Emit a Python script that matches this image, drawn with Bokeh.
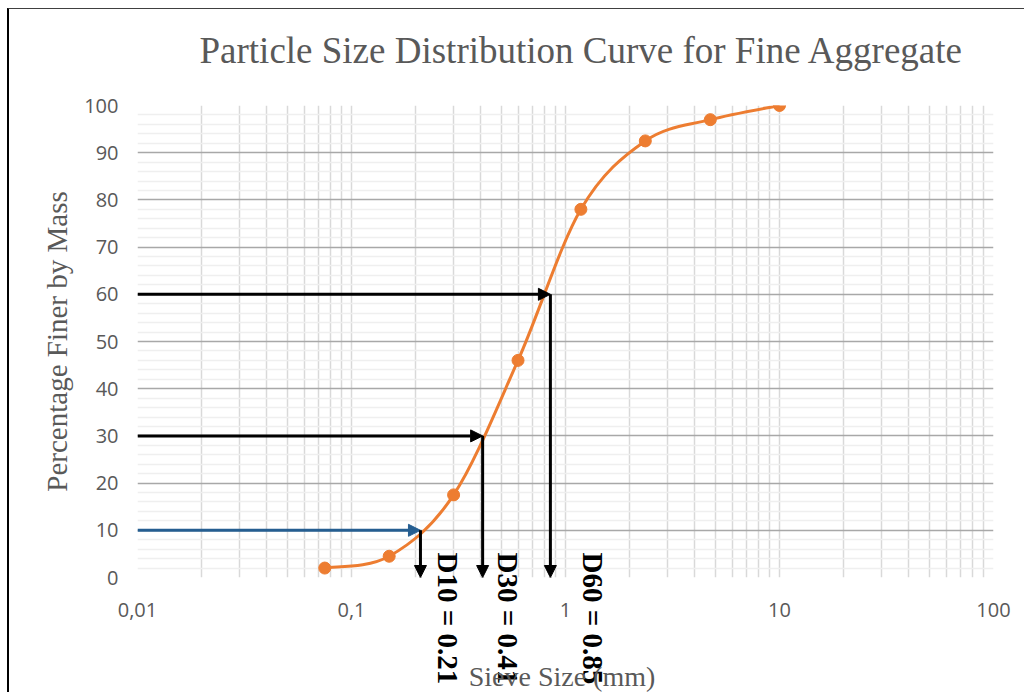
import numpy as np
from bokeh.plotting import figure
from bokeh.models import Arrow, NormalHead, FixedTicker, CustomJSTickFormatter
from bokeh.core.properties import value
from bokeh.embed import file_html
from bokeh.resources import INLINE

# ---- data ----
sieve_mm = [0.075, 0.15, 0.3, 0.6, 1.18, 2.36, 4.75, 10]
pct_finer = [2, 4.5, 17.5, 46, 78, 92.5, 97, 100]
d_names = ["D10", "D30", "D60"]
d_values = [0.21, 0.41, 0.85]
d_pcts = [10, 30, 60]
x_ticks = [0.01, 0.1, 1, 10, 100]
y_ticks = list(range(0, 101, 10))

TITLE = "Particle Size Distribution Curve for Fine Aggregate"
XLABEL = "Sieve  Size (mm)"
YLABEL = "Percentage Finer by Mass"

GRAY_TXT = "#595959"
ORANGE = "#ED7D31"
BLUE = "#255E91"

p = figure(width=1017, height=684, x_axis_type="log",
           x_range=(0.01, 100), y_range=(0, 100),
           output_backend="svg", toolbar_location=None,
           min_border_left=128, min_border_right=33,
           min_border_top=96, min_border_bottom=116)
p.styles = {"margin-left": "7px", "margin-top": "8px",
            "border-left": "2px solid #000000", "border-top": "1px solid #404040"}
p.outline_line_color = None
p.background_fill_color = "white"
p.border_fill_color = "white"

# minor ticks
x_minor = [m * 10.0 ** e for e in range(-2, 2) for m in range(2, 10)]
y_minor = [v for v in range(2, 100, 2) if v % 10 != 0]

p.xaxis.ticker = FixedTicker(ticks=x_ticks, minor_ticks=x_minor)
p.yaxis.ticker = FixedTicker(ticks=y_ticks, minor_ticks=y_minor)
p.xaxis.formatter = CustomJSTickFormatter(code="return String(tick).replace('.', ',');")

for ax in (p.xaxis, p.yaxis):
    ax.axis_line_color = None
    ax.major_tick_line_color = None
    ax.minor_tick_line_color = None
    ax.major_tick_out = 0
    ax.minor_tick_out = 0
    ax.major_label_text_font = "Open Sans"
    ax.major_label_text_font_size = "20px"
    ax.major_label_text_color = GRAY_TXT
p.xaxis.major_label_standoff = 25
p.yaxis.major_label_standoff = 19

p.yaxis.axis_label = YLABEL
p.yaxis.axis_label_text_font = "Liberation Serif"
p.yaxis.axis_label_text_font_size = "29px"
p.yaxis.axis_label_text_font_style = "normal"
p.yaxis.axis_label_text_color = GRAY_TXT
p.yaxis.axis_label_standoff = 8

# grids
p.xgrid.grid_line_color = "#D9D9D9"
p.xgrid.grid_line_width = 1.5
p.xgrid.minor_grid_line_color = "#D9D9D9"
p.xgrid.minor_grid_line_width = 1.5
p.ygrid.grid_line_color = "#A8A8A8"
p.ygrid.grid_line_width = 1.5
p.ygrid.minor_grid_line_color = "#EFEFEF"
p.ygrid.minor_grid_line_width = 1.5

# smoothed curve (Catmull-Rom style Bezier segments in log-x space)
lx = np.log10(np.array(sieve_mm))
yy = np.array(pct_finer, dtype=float)
n = len(lx)
x0, y0, x1, y1, cx0, cy0, cx1, cy1 = [], [], [], [], [], [], [], []
for i in range(n - 1):
    a = i - 1 if i > 0 else i
    b = i + 2 if i + 2 < n else i + 1
    x0.append(10 ** lx[i]); y0.append(yy[i])
    x1.append(10 ** lx[i + 1]); y1.append(yy[i + 1])
    cx0.append(10 ** (lx[i] + (lx[i + 1] - lx[a]) / 6)); cy0.append(yy[i] + (yy[i + 1] - yy[a]) / 6)
    cx1.append(10 ** (lx[i + 1] - (lx[b] - lx[i]) / 6)); cy1.append(yy[i + 1] - (yy[b] - yy[i]) / 6)
p.bezier(x0=x0, y0=y0, x1=x1, y1=y1, cx0=cx0, cy0=cy0, cx1=cx1, cy1=cy1,
         line_color=ORANGE, line_width=3)
p.scatter(sieve_mm, pct_finer, size=12, color=ORANGE, marker="circle")

# arrows
for name, dv, dp in zip(d_names, d_values, d_pcts):
    hcol = BLUE if dp == 10 else "black"
    p.add_layout(Arrow(end=NormalHead(size=12, fill_color=hcol, line_color=hcol),
                       x_start=x_ticks[0], y_start=dp, x_end=dv, y_end=dp,
                       line_color=hcol, line_width=3))
    p.add_layout(Arrow(end=NormalHead(size=12, fill_color="black", line_color="black"),
                       x_start=dv, y_start=dp, x_end=dv, y_end=0,
                       line_color="black", line_width=3))

# D labels (overlay level so they may cross the plot frame)
d_texts = [f"{nm} = {dv}" for nm, dv in zip(d_names, d_values)]
p.text(x=d_values, y=[0, 0, 0], text=d_texts, angle=-np.pi / 2,
       x_offset=[28, 25, 43], y_offset=-25,
       text_align="left", text_baseline="middle",
       text_font=value("Liberation Serif"), text_font_size="29px",
       text_font_style="bold", text_color="black", level="overlay")

# chart title
p.text(x=[x_ticks[0]], y=[y_ticks[-1]], text=[TITLE], x_offset=62, y_offset=-55,
       text_align="left", text_baseline="middle",
       text_font=value("Liberation Serif"), text_font_size="37px",
       text_color=GRAY_TXT, level="overlay")

# x axis title
p.text(x=[1], y=[0], text=[XLABEL], y_offset=99,
       text_align="center", text_baseline="middle",
       text_font=value("Liberation Serif"), text_font_size="28px",
       text_color=GRAY_TXT, level="overlay")

open("out.html", "w").write(file_html(p, INLINE))
